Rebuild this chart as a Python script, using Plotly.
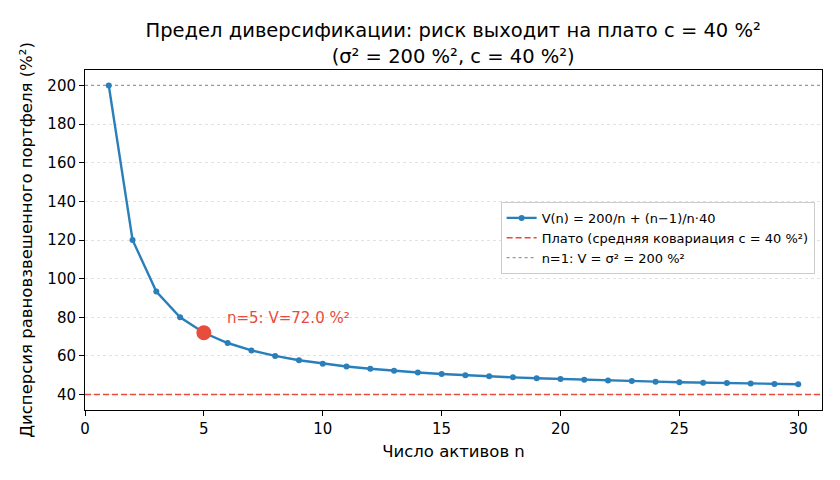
import plotly.graph_objects as go

n_assets = list(range(1, 31))
variance = [200.0, 120.0, 93.33, 80.0, 72.0, 66.67, 62.86, 60.0, 57.78, 56.0,
            54.55, 53.33, 52.31, 51.43, 50.67, 50.0, 49.41, 48.89, 48.42, 48.0,
            47.62, 47.27, 46.96, 46.67, 46.4, 46.15, 45.93, 45.71, 45.52, 45.33]
plateau = 40.0
sigma2 = 200.0
highlight_n = 5
highlight_v = 72.0

xr = [0, 31]
yr = [32, 208]

fig = go.Figure()
fig.add_trace(go.Scatter(
    x=xr, y=[plateau, plateau], mode="lines",
    line=dict(color="#e74c3c", width=1.6, dash="6px,3px"),
    name="Плато (средняя ковариация c = 40 %²)", showlegend=False, hoverinfo="skip"))
fig.add_trace(go.Scatter(
    x=xr, y=[sigma2, sigma2], mode="lines",
    line=dict(color="#999999", width=1.3, dash="dot"),
    name="n=1: V = σ² = 200 %²", showlegend=False, hoverinfo="skip"))
fig.add_trace(go.Scatter(
    x=n_assets, y=variance, mode="lines+markers",
    line=dict(color="#2a7fba", width=2.4),
    marker=dict(color="#2a7fba", size=6),
    name="V(n) = 200/n + (n−1)/n·40"))
fig.add_trace(go.Scatter(
    x=[highlight_n], y=[highlight_v], mode="markers",
    marker=dict(color="#e74c3c", size=15),
    showlegend=False, hoverinfo="skip"))
# legend entries (order as reference)
fig.add_trace(go.Scatter(
    x=[None], y=[None], mode="lines",
    line=dict(color="#e74c3c", width=1.6, dash="6px,3px"),
    name="Плато (средняя ковариация c = 40 %²)"))
fig.add_trace(go.Scatter(
    x=[None], y=[None], mode="lines",
    line=dict(color="#999999", width=1.3, dash="dot"),
    name="n=1: V = σ² = 200 %²"))

fig.add_annotation(
    x=5.9, y=79.5, xref="x", yref="y", xanchor="left", yanchor="middle",
    text=f"n={highlight_n}: V={highlight_v:.1f} %²", showarrow=False,
    font=dict(color="#e74c3c", size=15, family="DejaVu Sans"))

fig.update_layout(
    width=840, height=480,
    margin=dict(l=85, r=18, t=70, b=70),
    paper_bgcolor="white", plot_bgcolor="white",
    font=dict(family="DejaVu Sans", size=15, color="black"),
    title=dict(
        text="Предел диверсификации: риск выходит на плато c = 40 %²<br>(σ² = 200 %², c = 40 %²)",
        x=0.5395, xanchor="center", y=0.922, yanchor="top",
        font=dict(size=19.5, family="DejaVu Sans")),
    showlegend=True,
    legend=dict(
        x=0.99, xanchor="right", y=0.506, yanchor="middle",
        bgcolor="rgba(255,255,255,0.85)", bordercolor="#cccccc", borderwidth=1,
        font=dict(size=13, family="DejaVu Sans"), tracegroupgap=0),
    xaxis=dict(
        range=xr, tickmode="array", tickvals=[0, 5, 10, 15, 20, 25, 30],
        showgrid=False, zeroline=False, showline=True, linecolor="black",
        linewidth=1, mirror=True, ticks="outside", ticklen=5, tickcolor="black",
        tickfont=dict(size=15),
        title=dict(text="Число активов n", font=dict(size=16.5), standoff=8)),
    yaxis=dict(
        range=yr, tickmode="array", tickvals=[40, 60, 80, 100, 120, 140, 160, 180, 200],
        showgrid=True, gridcolor="#e2e2e2", griddash="dot", gridwidth=1,
        zeroline=False, showline=True, linecolor="black", linewidth=1, mirror=True,
        ticks="outside", ticklen=5, tickcolor="black", tickfont=dict(size=15),
        title=dict(text="Дисперсия равновзвешенного портфеля (%²)", font=dict(size=16.5), standoff=10)),
)

fig.write_html("out.html")
